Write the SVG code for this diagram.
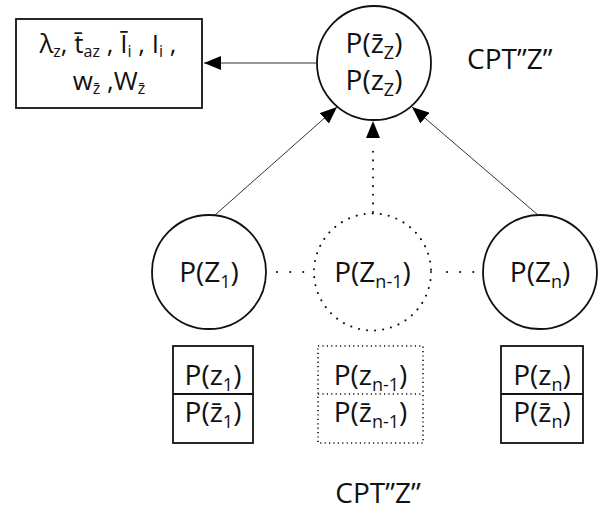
<svg xmlns="http://www.w3.org/2000/svg" width="600" height="511" viewBox="0 0 600 511">
<style>
text{font-family:"Open Sans","Noto Sans","DejaVu Sans",sans-serif;font-size:28px;fill:#111}
.s{font-size:18px}
.b{font-size:26px}
.b .s{font-size:16px}
.node{fill:#fff;stroke:#111;stroke-width:1.8}
.dotc{fill:none;stroke:#111;stroke-width:2;stroke-dasharray:0.1 8;stroke-linecap:round}
.dotr{fill:none;stroke:#111;stroke-width:1.6;stroke-dasharray:1.2 3.2}
.edge{stroke:#333;stroke-width:1;fill:none}
.dots{stroke:#111;stroke-width:2;stroke-dasharray:0.1 13;stroke-linecap:round;fill:none}
</style>
<defs>
<marker id="ah" markerUnits="userSpaceOnUse" markerWidth="18" markerHeight="14" refX="17" refY="7" orient="auto">
<path d="M0,0 L17,7 L0,14 Z" fill="#000"/>
</marker>
</defs>
<g id="connectors">
<line class="edge" x1="317" y1="63" x2="204" y2="63" marker-end="url(#ah)"/>
<line class="edge" x1="215" y1="215" x2="337" y2="107" marker-end="url(#ah)"/>
<line class="edge" x1="538" y1="215" x2="412" y2="107" marker-end="url(#ah)"/>
<line class="dots" x1="373" y1="212" x2="373" y2="150" style="stroke-dasharray:0.1 8.5"/>
<line class="edge" x1="373" y1="145" x2="373" y2="121" style="stroke:none" marker-end="url(#ah)"/>
<line class="dots" x1="277" y1="272" x2="304" y2="272"/>
<line class="dots" x1="447" y1="272" x2="474" y2="272"/>
</g>
<g id="params">
<rect x="16" y="19" width="186" height="89" class="node"/>
<text class="b" x="108" y="53" text-anchor="middle">λ<tspan class="s" dy="4">z</tspan><tspan dy="-4">, t̄</tspan><tspan class="s" dy="4">az</tspan><tspan dy="-4"> , Ī</tspan><tspan class="s" dy="4">i</tspan><tspan dy="-4"> , I</tspan><tspan class="s" dy="4">i</tspan><tspan dy="-4"> ,</tspan></text>
<text class="b" x="109" y="90" text-anchor="middle">w<tspan class="s" dy="4">z̄</tspan><tspan dy="-4"> ,W</tspan><tspan class="s" dy="4">z̄</tspan></text>
</g>
<g id="Z">
<circle cx="374" cy="63" r="57" class="node"/>
<text x="374" y="53" text-anchor="middle">P(z̄<tspan class="s" dy="6">Z</tspan><tspan dy="-6">)</tspan></text>
<text x="374" y="90" text-anchor="middle">P(z<tspan class="s" dy="6">Z</tspan><tspan dy="-6">)</tspan></text>
</g>
<text id="cptTop" x="467" y="69">CPT”Z”</text>
<g id="Z1">
<circle cx="209" cy="272" r="57" class="node"/>
<text x="209" y="282" text-anchor="middle">P(Z<tspan class="s" dy="6">1</tspan><tspan dy="-6">)</tspan></text>
</g>
<g id="Zn-1">
<circle cx="372.5" cy="272" r="58.5" class="dotc"/>
<text x="372.5" y="282" text-anchor="middle">P(Z<tspan class="s" dy="6">n-1</tspan><tspan dy="-6">)</tspan></text>
</g>
<g id="Zn">
<circle cx="540" cy="272" r="57" class="node"/>
<text x="540" y="282" text-anchor="middle">P(Z<tspan class="s" dy="6">n</tspan><tspan dy="-6">)</tspan></text>
</g>
<g id="cpt1">
<rect x="173" y="346" width="80" height="97" class="node"/>
<line x1="173" y1="394" x2="253" y2="394" class="node"/>
<text x="213" y="385" text-anchor="middle">P(z<tspan class="s" dy="6">1</tspan><tspan dy="-6">)</tspan></text>
<text x="213" y="422" text-anchor="middle">P(z̄<tspan class="s" dy="6">1</tspan><tspan dy="-6">)</tspan></text>
</g>
<g id="cptn-1">
<rect x="318" y="346" width="105" height="97" class="dotr"/>
<line x1="318" y1="394" x2="423" y2="394" class="dotr"/>
<text x="370.5" y="385" text-anchor="middle">P(z<tspan class="s" dy="6">n-1</tspan><tspan dy="-6">)</tspan></text>
<text x="370.5" y="422" text-anchor="middle">P(z̄<tspan class="s" dy="6">n-1</tspan><tspan dy="-6">)</tspan></text>
</g>
<g id="cptn">
<rect x="501" y="346" width="82" height="97" class="node"/>
<line x1="501" y1="394" x2="583" y2="394" class="node"/>
<text x="542" y="385" text-anchor="middle">P(z<tspan class="s" dy="6">n</tspan><tspan dy="-6">)</tspan></text>
<text x="542" y="422" text-anchor="middle">P(z̄<tspan class="s" dy="6">n</tspan><tspan dy="-6">)</tspan></text>
</g>
<text id="cptBottom" x="378" y="503" text-anchor="middle">CPT”Z”</text>
</svg>
